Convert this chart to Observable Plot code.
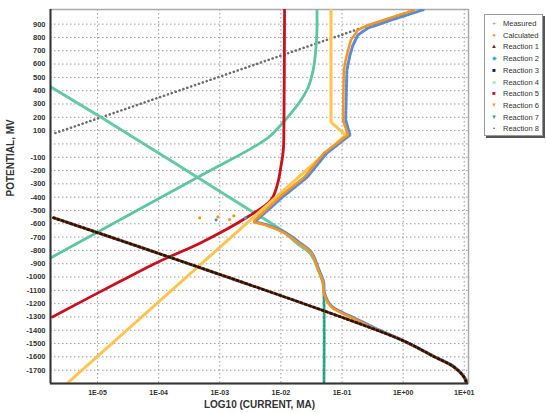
<!DOCTYPE html>
<html>
<head>
<meta charset="utf-8">
<script src="https://cdn.jsdelivr.net/npm/d3@7"></script>
<script src="https://cdn.jsdelivr.net/npm/@observablehq/plot@0.6"></script>
<style>
  html, body { margin: 0; padding: 0; background: #fff; }
  #wrap { position: relative; width: 546px; height: 413px; overflow: hidden; }
  #legend { position: absolute; left: 484px; top: 14px; width: 57px; height: 120px;
    border: 1px solid #999; background: #fff; box-shadow: 2px 2px 0 #555;
    font-family: "Liberation Sans", Arial, sans-serif; font-size: 7.5px; color: #333; }
  #legend .row { position: absolute; left: 0; height: 11px; line-height: 11px; white-space: nowrap; }
  #legend .sym { position: absolute; left: 5px; width: 8px; text-align: center; }
  #legend .lab { position: absolute; left: 18px; }
</style>
</head>
<body>
<div id="wrap"><div id="chart"></div><div id="legend"></div></div>
<script>
// ---- axis ticks ----
const xTicks = [-5, -4, -3, -2, -1, 0, 1];
const xTickLabels = ["1E-05", "1E-04", "1E-03", "1E-02", "1E-01", "1E+00", "1E+01"];
const yTicks = [-1700, -1600, -1500, -1400, -1300, -1200, -1100, -1000, -900, -800, -700, -600, -500, -400, -300, -200, -100, 0, 100, 200, 300, 400, 500, 600, 700, 800, 900];
const yTickLabels = ["-1700", "-1600", "-1500", "-1400", "-1300", "-1200", "-1100", "-1000", "-900", "-800", "-700", "-600", "-500", "-400", "-300", "-200", "-100", "", "100", "200", "300", "400", "500", "600", "700", "800", "900"];

// ---- series (log10 current in mA, potential in mV) ----
const calcCathLog = [1.035, 0.99, 0.82, 0.50, -0.04, -0.48, -0.82, -1.02, -1.18, -1.30, -1.31, -1.39, -1.51, -1.72, -1.95, -2.27, -2.44];
const calcCathMv  = [-1795, -1747, -1672, -1597, -1470, -1385, -1310, -1268, -1222, -1117, -1042, -945, -817, -742, -668, -607, -590];
const calcAnLog = [-2.44, -2.0, -1.62, -1.30, -0.905, -0.985, -0.97, -0.94, -0.90, -0.855, -0.74, -0.58, 0.18];
const calcAnMv  = [-578, -390, -250, -70, 67, 180, 555, 630, 705, 780, 855, 892, 1005];
const calcScatLog = [-3.33, -3.03, -2.84, -2.77];
const calcScatMv  = [-555, -548, -568, -540];

const measCathLog = [1.07, 1.0, 0.83, 0.50, -0.04, -0.46, -0.80, -1.00, -1.17, -1.29, -1.30, -1.38, -1.50, -1.70, -1.93, -2.25, -2.40];
const measCathMv  = [-1800, -1750, -1672, -1595, -1468, -1383, -1308, -1265, -1220, -1115, -1040, -943, -815, -740, -665, -605, -588];
const measAnLog = [-2.40, -1.95, -1.57, -1.25, -0.87, -0.94, -0.92, -0.87, -0.82, -0.74, -0.58, -0.20, 0.34];
const measAnMv  = [-575, -390, -250, -70, 67, 180, 555, 668, 743, 818, 870, 930, 1010];
const measScatLog = [-3.06, -2.58];
const measScatMv  = [-570, -556];

const r1Log = [-5.72, -0.04, 0.50, 0.82, 0.99, 1.04];
const r1Mv  = [-555, -1470, -1597, -1672, -1747, -1800];
const r4Log = [-5.77, -4.95, -2.65, -2.0, -1.72, -1.51, -1.39, -1.31, -1.295, -1.295];
const r4Mv  = [430, 202, -457, -645, -752, -830, -945, -1050, -1170, -1800];
const r5Log = [-5.74, -4.62, -4.0, -3.30, -2.54, -2.16, -2.05, -2.00, -1.96, -1.95, -1.94];
const r5Mv  = [-1300, -1030, -885, -740, -547, -420, -292, -172, -45, 150, 1010];
const r6Log = [-5.50, -0.94, -1.18, -1.18];
const r6Mv  = [-1800, 66, 164, 1010];
const r7Log = [-5.77, -3.30, -2.49, -2.2, -2.0, -1.8, -1.67, -1.55, -1.47, -1.43, -1.41, -1.41];
const r7Mv  = [-857, -235, -35, 50, 142, 250, 330, 430, 560, 700, 850, 1010];
const r8Log = [-5.69, 0.20];
const r8Mv  = [82, 1010];

const zip = (xs, ys) => xs.map((x, i) => ({x, y: ys[i]}));
const xLab = new Map(xTicks.map((d, i) => [d, xTickLabels[i]]));
const yLab = new Map(yTicks.map((d, i) => [d, yTickLabels[i]]));

const FONT = "'Liberation Sans', Arial, sans-serif";
const grid = {stroke: "#999", strokeOpacity: 1, strokeWidth: 1, strokeDasharray: "1.5,2.5"};

const chart = Plot.plot({
  width: 546, height: 413,
  marginLeft: 50, marginRight: 78, marginTop: 9, marginBottom: 30,
  style: {fontFamily: FONT, background: "#fff", overflow: "visible"},
  x: {domain: [-5.77, 1.07]},
  y: {domain: [-1800, 1010]},
  marks: [
    Plot.gridX(xTicks, grid),
    Plot.gridY(yTicks, grid),
    Plot.frame({stroke: "#aaa", strokeWidth: 1.5}),
    // Reaction 8 (dotted gray)
    Plot.line(zip(r8Log, r8Mv), {x: "x", y: "y", stroke: "#6e6e6e", strokeWidth: 2.6, strokeDasharray: "0.1,4", strokeLinecap: "round", clip: true}),
    // Reaction 7 (ascending green)
    Plot.line(zip(r7Log, r7Mv), {x: "x", y: "y", stroke: "#5cc6a2", strokeWidth: 2.8, curve: "catmull-rom", clip: true}),
    // Reaction 4 (descending green)
    Plot.line(zip(r4Log, r4Mv), {x: "x", y: "y", stroke: "#66c9a6", strokeWidth: 3, curve: "catmull-rom", clip: true}),
    Plot.line(zip(r4Log, r4Mv).filter(d => d.y < -850), {x: "x", y: "y", stroke: "#249a80", strokeWidth: 2, strokeDasharray: "2,2", curve: "catmull-rom", clip: true}),
    // Reaction 5 (red)
    Plot.line(zip(r5Log, r5Mv), {x: "x", y: "y", stroke: "#c8101e", strokeWidth: 2.8, curve: "catmull-rom", clip: true}),
    // Reaction 6 (yellow-orange)
    Plot.line(zip(r6Log, r6Mv), {x: "x", y: "y", stroke: "#ffc44f", strokeWidth: 3, clip: true}),
    // Measured (blue)
    Plot.line(zip(measCathLog, measCathMv), {x: "x", y: "y", stroke: "#5b8bd6", strokeWidth: 3, curve: "catmull-rom", clip: true}),
    Plot.line(zip(measAnLog, measAnMv), {x: "x", y: "y", stroke: "#5b8bd6", strokeWidth: 3, strokeDasharray: "3,1.5", clip: true}),
    Plot.dot(zip(measScatLog, measScatMv), {x: "x", y: "y", r: 1.6, fill: "#5b8bd6"}),
    // Calculated (orange)
    Plot.line(zip(calcCathLog, calcCathMv), {x: "x", y: "y", stroke: "#f7961f", strokeWidth: 2.5, curve: "catmull-rom", clip: true}),
    Plot.line(zip(calcAnLog, calcAnMv), {x: "x", y: "y", stroke: "#f7961f", strokeWidth: 2.5, clip: true}),
    Plot.dot(zip(calcScatLog, calcScatMv), {x: "x", y: "y", r: 1.6, fill: "#f7961f"}),
    // Reaction 1 (brown with dark triangles)
    Plot.line(zip(r1Log, r1Mv), {x: "x", y: "y", stroke: "#8a4a28", strokeWidth: 3, curve: "catmull-rom", clip: true}),
    Plot.line(zip(r1Log, r1Mv), {x: "x", y: "y", stroke: "#2a120a", strokeWidth: 2.6, strokeDasharray: "1.5,3", curve: "catmull-rom", clip: true}),
    // axes frame (left & bottom dark)
    Plot.ruleX([-5.77], {stroke: "#333", strokeWidth: 2}),
    Plot.ruleY([-1800], {stroke: "#333", strokeWidth: 2}),
    Plot.axisX(xTicks, {tickSize: 0, tickPadding: 7, tickFormat: d => xLab.get(d), fontSize: 7, fontWeight: "bold", fill: "#333", label: null}),
    Plot.axisY(yTicks, {tickSize: 0, tickPadding: 5, tickFormat: d => yLab.get(d), fontSize: 7.5, fontWeight: "bold", fill: "#333", label: null}),
    Plot.text(["LOG10 (CURRENT, MA)"], {frameAnchor: "bottom", dy: 24, text: d => d, fontSize: 10, fontWeight: "bold", fill: "#333"}),
    Plot.text(["POTENTIAL, MV"], {frameAnchor: "left", dx: -40, rotate: -90, text: d => d, fontSize: 10, fontWeight: "bold", fill: "#333"})
  ]
});
document.getElementById("chart").appendChild(chart);

// ---- legend ----
const legendNames = ["Measured", "Calculated", "Reaction 1", "Reaction 2", "Reaction 3", "Reaction 4", "Reaction 5", "Reaction 6", "Reaction 7", "Reaction 8"];
const legendSymbols = ["+", "●", "▲", "◆", "■", "ж", "■", "▼", "▼", "•"];
const legendColors = ["#5b8bd6", "#f7961f", "#7a1a10", "#40b0d0", "#10205a", "#7fd0b0", "#d0101e", "#f7a21f", "#2fa890", "#555"];
const lg = document.getElementById("legend");
legendNames.forEach((n, i) => {
  const row = document.createElement("div");
  row.className = "row";
  row.style.top = (3 + i * 11.7) + "px";
  row.innerHTML = `<span class="sym" style="color:${legendColors[i]};font-size:6px">${legendSymbols[i]}</span><span class="lab">${n}</span>`;
  lg.appendChild(row);
});
</script>
</body>
</html>
